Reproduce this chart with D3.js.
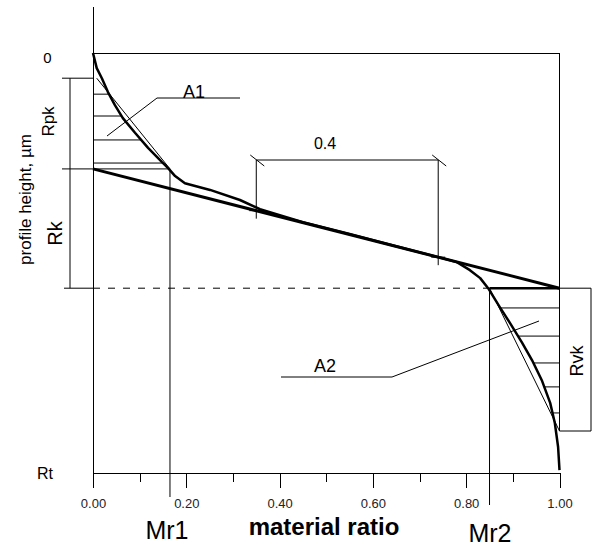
<!DOCTYPE html>
<meta charset="utf-8">
<script src="https://d3js.org/d3.v7.min.js"></script>
<style>
  body { margin: 0; background: #fff; }
  svg { font-family: "Liberation Sans", Arial, sans-serif; }
  .thin { fill: none; stroke: #000; stroke-width: 1px; }
  .axis path, .axis line { stroke: #000; shape-rendering: crispEdges; }
  .axis text { font-size: 13px; fill: #222; }
</style>
<div id="chart"></div>
<script>
  // material ratio curve (Abbott-Firestone), depth in % of Rt
  var curveRatio = [0.000, 0.008, 0.019, 0.032, 0.047, 0.064, 0.090, 0.118, 0.148, 0.161, 0.176, 0.197,
                    0.251, 0.315, 0.358, 0.450, 0.550, 0.650, 0.740, 0.780, 0.808, 0.830, 0.847, 0.872,
                    0.894, 0.920, 0.941, 0.962, 0.980, 0.990, 0.997, 1.000];
  var curveDepth = [0.0, 3.6, 6.0, 9.3, 12.4, 15.5, 19.0, 22.6, 26.0, 27.4, 29.3, 31.0,
                    32.6, 35.0, 37.2, 40.3, 43.1, 46.0, 48.6, 49.8, 51.7, 53.6, 56.0, 60.5,
                    64.3, 69.0, 73.1, 77.9, 83.3, 88.1, 93.8, 99.3];

  // equivalent straight line over the 0.4 window
  var rkLineRatio = [0, 1];
  var rkLineDepth = [27.6, 56.0];

  // characteristic levels
  var rpkTop = 6.0, rkTop = 27.6, rkBottom = 56.0, rvkBottom = 90.0, rtDepth = 100;
  var mr1 = 0.165, mr2 = 0.85;
  var windowRatio = [0.35, 0.74];

  // hatching of the areas A1 and A2
  var hatchA1 = [9.8, 15.0, 20.7, 26.2];
  var hatchA2 = [60.7, 67.4, 73.8, 79.5, 85.7];

  var majorTicks = [0, 0.2, 0.4, 0.6, 0.8, 1.0];
  var minorTicks = [0.1, 0.3, 0.5, 0.7, 0.9];
  var tickLabels = ["0.00", "0.20", "0.40", "0.60", "0.80", "1.00"];

  var width = 592, height = 547;

  var x = d3.scaleLinear().domain([0, 1]).range([93, 559.5]);
  var y = d3.scaleLinear().domain([0, rtDepth]).range([53, 473]);

  var svg = d3.select("#chart").append("svg")
    .attr("width", width)
    .attr("height", height);

  function seg(r1, d1, r2, d2, cls) {
    return svg.append("line")
      .attr("class", cls || "thin")
      .attr("x1", x(r1)).attr("y1", y(d1))
      .attr("x2", x(r2)).attr("y2", y(d2));
  }

  // ratio at which the curve reaches a given depth
  function ratioAt(d) {
    for (var i = 1; i < curveDepth.length; i++) {
      if (curveDepth[i] >= d) {
        var t = (d - curveDepth[i - 1]) / (curveDepth[i] - curveDepth[i - 1]);
        return curveRatio[i - 1] + t * (curveRatio[i] - curveRatio[i - 1]);
      }
    }
    return 1;
  }

  // frame: y axis, top line, right side
  svg.append("line").attr("class", "thin")
    .attr("x1", x(0)).attr("y1", 7).attr("x2", x(0)).attr("y2", y(rtDepth))
    .style("shape-rendering", "crispEdges");
  seg(0, 0, 1, 0).style("shape-rendering", "crispEdges");
  seg(1, 0, 1, rvkBottom).style("shape-rendering", "crispEdges");

  // x axis, major and minor ticks
  svg.append("g")
    .attr("class", "axis")
    .attr("transform", "translate(0," + y(rtDepth) + ")")
    .call(d3.axisBottom(x).tickValues(minorTicks).tickSize(9).tickSizeOuter(0).tickFormat(""));
  svg.append("g")
    .attr("class", "axis")
    .attr("transform", "translate(0," + y(rtDepth) + ")")
    .call(d3.axisBottom(x).tickValues(majorTicks).tickSize(15).tickSizeOuter(0).tickPadding(11)
      .tickFormat(function (d, i) { return tickLabels[i]; }));

  // Rpk / Rk bracket on the left
  svg.append("line").attr("class", "thin")
    .attr("x1", 70).attr("y1", y(rpkTop)).attr("x2", 70).attr("y2", y(rkBottom));
  svg.append("line").attr("class", "thin")
    .attr("x1", 62).attr("y1", y(rpkTop)).attr("x2", x(0)).attr("y2", y(rpkTop));
  svg.append("line").attr("class", "thin")
    .attr("x1", 62).attr("y1", y(rkTop)).attr("x2", x(mr1)).attr("y2", y(rkTop));
  svg.append("line").attr("class", "thin")
    .attr("x1", 64).attr("y1", y(rkBottom)).attr("x2", x(0)).attr("y2", y(rkBottom));

  // dashed Rk bottom line, solid base of A2
  seg(0, rkBottom, mr2, rkBottom).style("stroke-dasharray", "7,8");
  seg(mr2, rkBottom, 1, rkBottom).style("stroke-width", 2.5);

  // Mr1, Mr2 verticals
  svg.append("line").attr("class", "thin")
    .attr("x1", x(mr1)).attr("y1", y(rkTop)).attr("x2", x(mr1)).attr("y2", 497);
  svg.append("line").attr("class", "thin")
    .attr("x1", x(mr2)).attr("y1", y(rkBottom)).attr("x2", x(mr2)).attr("y2", 505);

  // Rvk box
  svg.append("path").attr("class", "thin")
    .attr("d", "M" + x(1) + "," + y(rkBottom) + "H591V" + y(rvkBottom) + "H" + x(1));

  // hatching
  hatchA1.forEach(function (d) { seg(0, d, ratioAt(d), d); });
  hatchA2.forEach(function (d) { seg(ratioAt(d), d, 1, d); });

  // triangle hypotenuses
  seg(0.008, rpkTop, mr1, rkTop);
  seg(mr2, rkBottom, 1, rvkBottom);

  // the 0.4 window
  var wTop = 160;
  windowRatio.forEach(function (r, i) {
    var dl = rkLineDepth[0] + r * (rkLineDepth[1] - rkLineDepth[0]);
    var xr = x(r), yl = y(dl);
    svg.append("line").attr("class", "thin")
      .attr("x1", xr).attr("y1", wTop).attr("x2", xr).attr("y2", yl + 8);
    svg.append("line").attr("class", "thin")
      .attr("x1", xr - 7).attr("y1", yl).attr("x2", xr + 7).attr("y2", yl);
    svg.append("line").attr("class", "thin")
      .attr("x1", xr - 6).attr("y1", wTop - 5).attr("x2", xr + 8).attr("y2", wTop + 6);
  });
  svg.append("line").attr("class", "thin")
    .attr("x1", x(windowRatio[0])).attr("y1", wTop).attr("x2", x(windowRatio[1])).attr("y2", wTop);
  svg.append("text").attr("x", 325).attr("y", 149)
    .attr("text-anchor", "middle").style("font-size", "16px").text("0.4");

  // Rk straight line
  svg.append("line")
    .attr("x1", x(rkLineRatio[0])).attr("y1", y(rkLineDepth[0]))
    .attr("x2", x(rkLineRatio[1])).attr("y2", y(rkLineDepth[1]))
    .style("stroke", "#000").style("stroke-width", 3);

  // bearing curve
  var line = d3.line()
    .x(function (d, i) { return x(curveRatio[i]); })
    .y(function (d, i) { return y(curveDepth[i]); });
  svg.append("path")
    .datum(curveRatio)
    .attr("d", line)
    .style("fill", "none").style("stroke", "#000").style("stroke-width", 2.5)
    .style("stroke-linejoin", "round");

  // A1 / A2 leaders
  svg.append("path").attr("class", "thin").attr("d", "M240,98H157L107,136");
  svg.append("path").attr("class", "thin").attr("d", "M281,377H392L539,321");
  svg.append("text").attr("x", 194).attr("y", 97.5)
    .attr("text-anchor", "middle").style("font-size", "18px").text("A1");
  svg.append("text").attr("x", 325).attr("y", 372)
    .attr("text-anchor", "middle").style("font-size", "18px").text("A2");

  // left labels
  svg.append("text").attr("x", 47.5).attr("y", 63)
    .attr("text-anchor", "middle").style("font-size", "15px").text("0");
  svg.append("text").attr("x", 45).attr("y", 479)
    .attr("text-anchor", "middle").style("font-size", "16px").text("Rt");

  function vtext(cx, cy, size, s) {
    svg.append("text")
      .attr("transform", "translate(" + cx + "," + cy + ")rotate(-90)")
      .attr("text-anchor", "middle").attr("dy", "0.35em")
      .style("font-size", size + "px").text(s);
  }
  vtext(48, 121.5, 17, "Rpk");
  vtext(54.5, 233.5, 20, "Rk");
  vtext(25, 199.5, 17, "profile height, \u00b5m");
  vtext(577, 361, 18, "Rvk");

  // bottom labels
  svg.append("text").attr("x", 167).attr("y", 539)
    .attr("text-anchor", "middle").style("font-size", "25px").text("Mr1");
  svg.append("text").attr("x", 490).attr("y", 542)
    .attr("text-anchor", "middle").style("font-size", "25px").text("Mr2");
  svg.append("text").attr("x", 324).attr("y", 535)
    .attr("text-anchor", "middle").style("font-size", "24px").style("font-weight", "bold")
    .text("material ratio");
</script>
